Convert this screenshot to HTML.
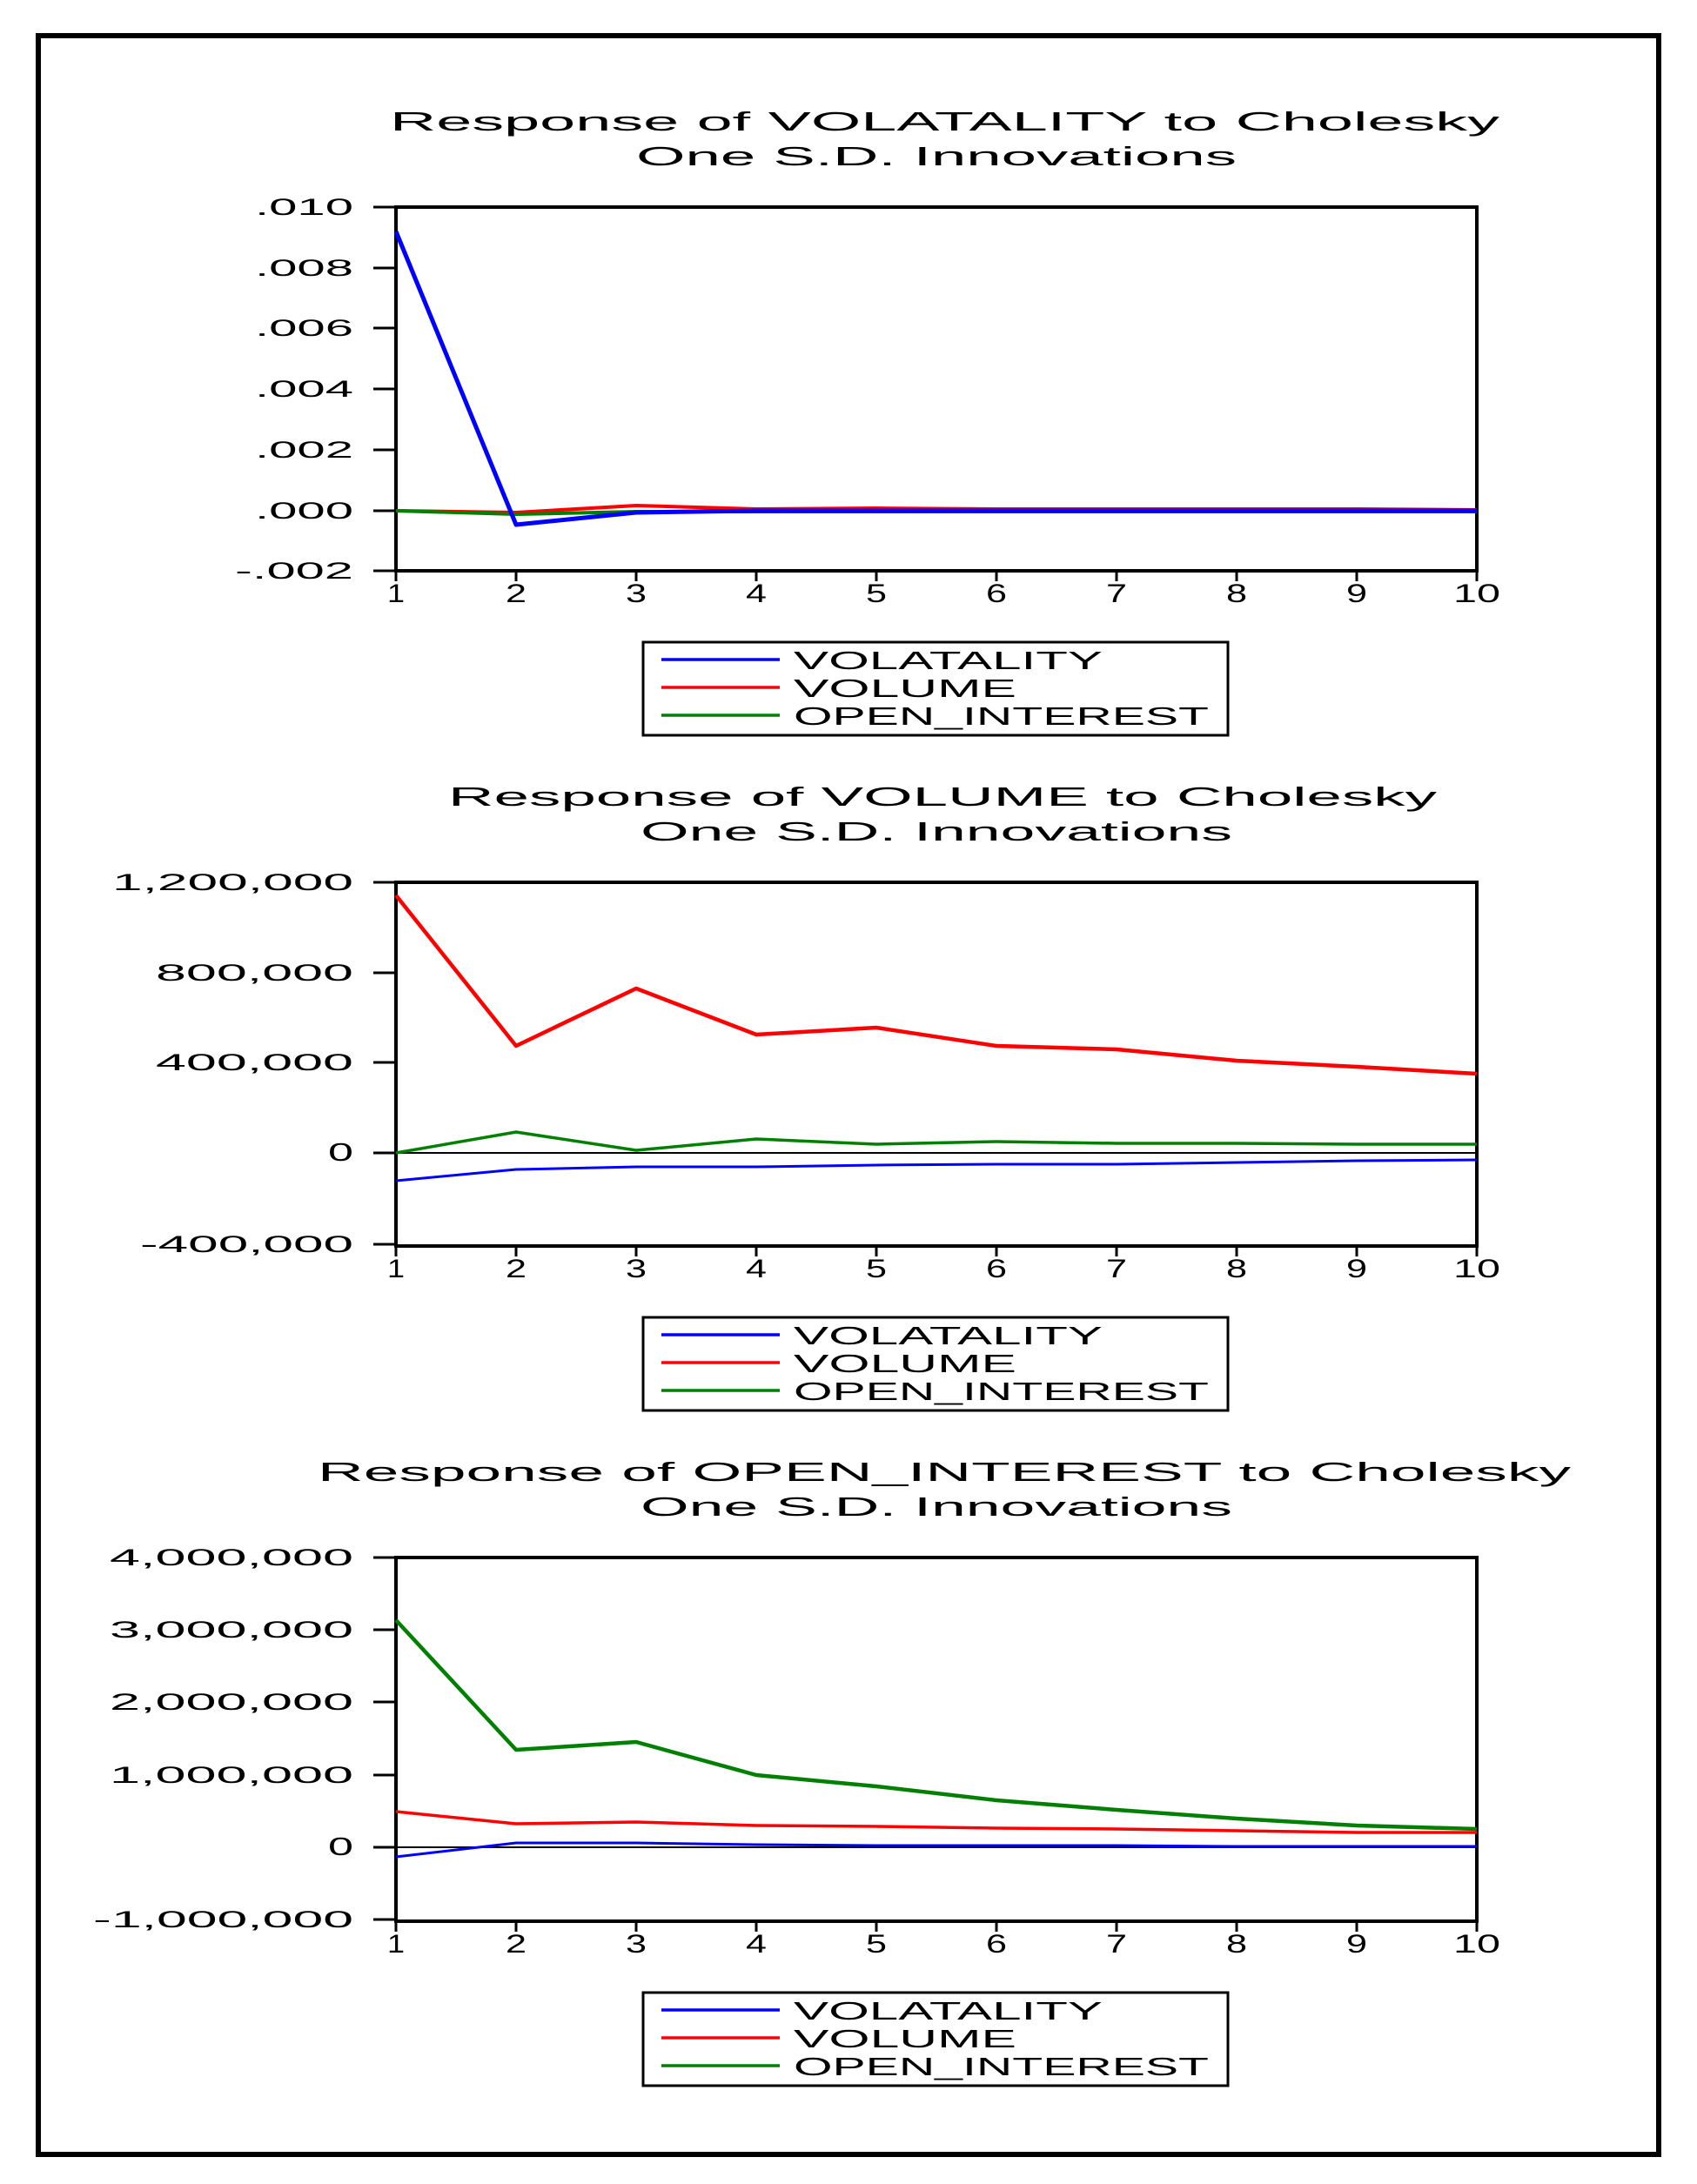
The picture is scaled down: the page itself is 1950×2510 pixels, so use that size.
<!DOCTYPE html>
<html><head><meta charset="utf-8"><style>
html,body{margin:0;padding:0;background:#fff;width:1950px;height:2510px;overflow:hidden}
svg{display:block}
text{font-family:"Liberation Sans",Arial,sans-serif;fill:#000}
</style></head><body>
<svg width="1950" height="2510" viewBox="0 0 1950 2510" xmlns="http://www.w3.org/2000/svg">
<rect x="0" y="0" width="1950" height="2510" fill="#fff"/>
<rect x="44" y="41" width="1862" height="2435" fill="none" stroke="#000" stroke-width="6"/>

<defs>
<g id="frame">
  <rect x="455" y="238" width="1242" height="418" fill="none" stroke="#000" stroke-width="4"/>
  <g stroke="#000" stroke-width="3">
    <line x1="455" y1="656" x2="455" y2="668"/><line x1="593" y1="656" x2="593" y2="668"/>
    <line x1="731" y1="656" x2="731" y2="668"/><line x1="869" y1="656" x2="869" y2="668"/>
    <line x1="1007" y1="656" x2="1007" y2="668"/><line x1="1145" y1="656" x2="1145" y2="668"/>
    <line x1="1283" y1="656" x2="1283" y2="668"/><line x1="1421" y1="656" x2="1421" y2="668"/>
    <line x1="1559" y1="656" x2="1559" y2="668"/><line x1="1697" y1="656" x2="1697" y2="668"/>
  </g>
  <g font-size="30" text-anchor="middle">
    <text x="455" y="692" textLength="20" lengthAdjust="spacingAndGlyphs">1</text>
    <text x="593" y="692" textLength="24" lengthAdjust="spacingAndGlyphs">2</text>
    <text x="731" y="692" textLength="24" lengthAdjust="spacingAndGlyphs">3</text>
    <text x="869" y="692" textLength="24" lengthAdjust="spacingAndGlyphs">4</text>
    <text x="1007" y="692" textLength="24" lengthAdjust="spacingAndGlyphs">5</text>
    <text x="1145" y="692" textLength="24" lengthAdjust="spacingAndGlyphs">6</text>
    <text x="1283" y="692" textLength="24" lengthAdjust="spacingAndGlyphs">7</text>
    <text x="1421" y="692" textLength="24" lengthAdjust="spacingAndGlyphs">8</text>
    <text x="1559" y="692" textLength="24" lengthAdjust="spacingAndGlyphs">9</text>
    <text x="1697" y="692" textLength="54" lengthAdjust="spacingAndGlyphs">10</text>
  </g>
  <rect x="739" y="738" width="672" height="107" fill="#fff" stroke="#000" stroke-width="3"/>
  <line x1="760" y1="758" x2="896" y2="758" stroke="#0000ff" stroke-width="3.5"/>
  <line x1="760" y1="790" x2="896" y2="790" stroke="#ff0000" stroke-width="3.5"/>
  <line x1="760" y1="822" x2="896" y2="822" stroke="#008000" stroke-width="3.5"/>
  <g font-size="29">
    <text x="912" y="769" textLength="355" lengthAdjust="spacingAndGlyphs">VOLATALITY</text>
    <text x="912" y="801" textLength="256" lengthAdjust="spacingAndGlyphs">VOLUME</text>
    <text x="912" y="833" textLength="477" lengthAdjust="spacingAndGlyphs">OPEN_INTEREST</text>
  </g>
</g>
</defs>

<!-- Chart 1 -->
<use href="#frame"/>
<g font-size="31">
<text x="448" y="150" textLength="1275" lengthAdjust="spacingAndGlyphs">Response of VOLATALITY to Cholesky</text>
<text x="731" y="190" textLength="690" lengthAdjust="spacingAndGlyphs">One S.D. Innovations</text>
</g>
<g stroke="#000" stroke-width="3">
<line x1="429" y1="238" x2="455" y2="238"/><line x1="429" y1="308" x2="455" y2="308"/>
<line x1="429" y1="377" x2="455" y2="377"/><line x1="429" y1="447" x2="455" y2="447"/>
<line x1="429" y1="517" x2="455" y2="517"/><line x1="429" y1="587" x2="455" y2="587"/>
<line x1="429" y1="656" x2="455" y2="656"/>
</g>
<g font-size="27" text-anchor="end">
<text x="406" y="247" textLength="113" lengthAdjust="spacingAndGlyphs">.010</text>
<text x="406" y="317" textLength="113" lengthAdjust="spacingAndGlyphs">.008</text>
<text x="406" y="386" textLength="113" lengthAdjust="spacingAndGlyphs">.006</text>
<text x="406" y="456" textLength="113" lengthAdjust="spacingAndGlyphs">.004</text>
<text x="406" y="526" textLength="113" lengthAdjust="spacingAndGlyphs">.002</text>
<text x="406" y="596" textLength="113" lengthAdjust="spacingAndGlyphs">.000</text>
<text x="406" y="665" textLength="136" lengthAdjust="spacingAndGlyphs">-.002</text>
</g>
<g fill="none" stroke-linejoin="round">
<polyline stroke="#ff0000" stroke-width="4" points="455,587 593,589 731,581 869,585 1007,584 1145,585 1283,585 1421,585 1559,585 1697,586"/>
<polyline stroke="#008000" stroke-width="4" points="455,587 593,591 731,588 869,588 1007,588 1145,588 1283,588 1421,588 1559,588 1697,588"/>
<polyline stroke="#0000ff" stroke-width="5" points="455,266 593,603 731,589 869,587 1007,587 1145,587 1283,587 1421,587 1559,587 1697,587"/>
</g>

<!-- Chart 2 -->
<use href="#frame" y="776"/>
<g font-size="31">
<text x="515" y="926" textLength="1136" lengthAdjust="spacingAndGlyphs">Response of VOLUME to Cholesky</text>
<text x="736" y="966" textLength="680" lengthAdjust="spacingAndGlyphs">One S.D. Innovations</text>
</g>
<line x1="455" y1="1325" x2="1697" y2="1325" stroke="#000" stroke-width="2"/>
<g stroke="#000" stroke-width="3">
<line x1="429" y1="1014" x2="455" y2="1014"/><line x1="429" y1="1118" x2="455" y2="1118"/>
<line x1="429" y1="1221" x2="455" y2="1221"/><line x1="429" y1="1325" x2="455" y2="1325"/>
<line x1="429" y1="1430" x2="455" y2="1430"/>
</g>
<g font-size="27" text-anchor="end">
<text x="406" y="1023" textLength="277" lengthAdjust="spacingAndGlyphs">1,200,000</text>
<text x="406" y="1127" textLength="227" lengthAdjust="spacingAndGlyphs">800,000</text>
<text x="406" y="1230" textLength="227" lengthAdjust="spacingAndGlyphs">400,000</text>
<text x="406" y="1334" font-size="29" textLength="29" lengthAdjust="spacingAndGlyphs">0</text>
<text x="406" y="1439" textLength="245" lengthAdjust="spacingAndGlyphs">-400,000</text>
</g>
<g fill="none" stroke-linejoin="round">
<polyline stroke="#008000" stroke-width="3.5" points="455,1325 593,1301 731,1322 869,1309 1007,1315 1145,1312 1283,1314 1421,1314 1559,1315 1697,1315"/>
<polyline stroke="#ff0000" stroke-width="4.5" points="455,1029 593,1202 731,1136 869,1189 1007,1181 1145,1202 1283,1206 1421,1219 1559,1226 1697,1234"/>
<polyline stroke="#0000ff" stroke-width="3" points="455,1357 593,1344 731,1341 869,1341 1007,1339 1145,1338 1283,1338 1421,1336 1559,1334 1697,1333"/>
</g>

<!-- Chart 3 -->
<use href="#frame" y="1552"/>
<g font-size="31">
<text x="365" y="1702" textLength="1440" lengthAdjust="spacingAndGlyphs">Response of OPEN_INTEREST to Cholesky</text>
<text x="736" y="1742" textLength="680" lengthAdjust="spacingAndGlyphs">One S.D. Innovations</text>
</g>
<line x1="455" y1="2123" x2="1697" y2="2123" stroke="#000" stroke-width="2"/>
<g stroke="#000" stroke-width="3">
<line x1="429" y1="1790" x2="455" y2="1790"/><line x1="429" y1="1873" x2="455" y2="1873"/>
<line x1="429" y1="1956" x2="455" y2="1956"/><line x1="429" y1="2040" x2="455" y2="2040"/>
<line x1="429" y1="2123" x2="455" y2="2123"/><line x1="429" y1="2206" x2="455" y2="2206"/>
</g>
<g font-size="27" text-anchor="end">
<text x="406" y="1799" textLength="280" lengthAdjust="spacingAndGlyphs">4,000,000</text>
<text x="406" y="1882" textLength="280" lengthAdjust="spacingAndGlyphs">3,000,000</text>
<text x="406" y="1965" textLength="280" lengthAdjust="spacingAndGlyphs">2,000,000</text>
<text x="406" y="2049" textLength="280" lengthAdjust="spacingAndGlyphs">1,000,000</text>
<text x="406" y="2132" font-size="29" textLength="29" lengthAdjust="spacingAndGlyphs">0</text>
<text x="406" y="2215" textLength="299" lengthAdjust="spacingAndGlyphs">-1,000,000</text>
</g>
<g fill="none" stroke-linejoin="round">
<polyline stroke="#ff0000" stroke-width="3.5" points="455,2082 593,2096 731,2094 869,2098 1007,2099 1145,2101 1283,2102 1421,2104 1559,2106 1697,2106"/>
<polyline stroke="#0000ff" stroke-width="3" points="455,2134 593,2118 731,2118 869,2120 1007,2121 1145,2121 1283,2121 1421,2122 1559,2122 1697,2122"/>
<polyline stroke="#008000" stroke-width="4.5" points="455,1862 593,2011 731,2002 869,2040 1007,2053 1145,2069 1283,2080 1421,2090 1559,2098 1697,2102"/>
</g>
</svg>
</body></html>
